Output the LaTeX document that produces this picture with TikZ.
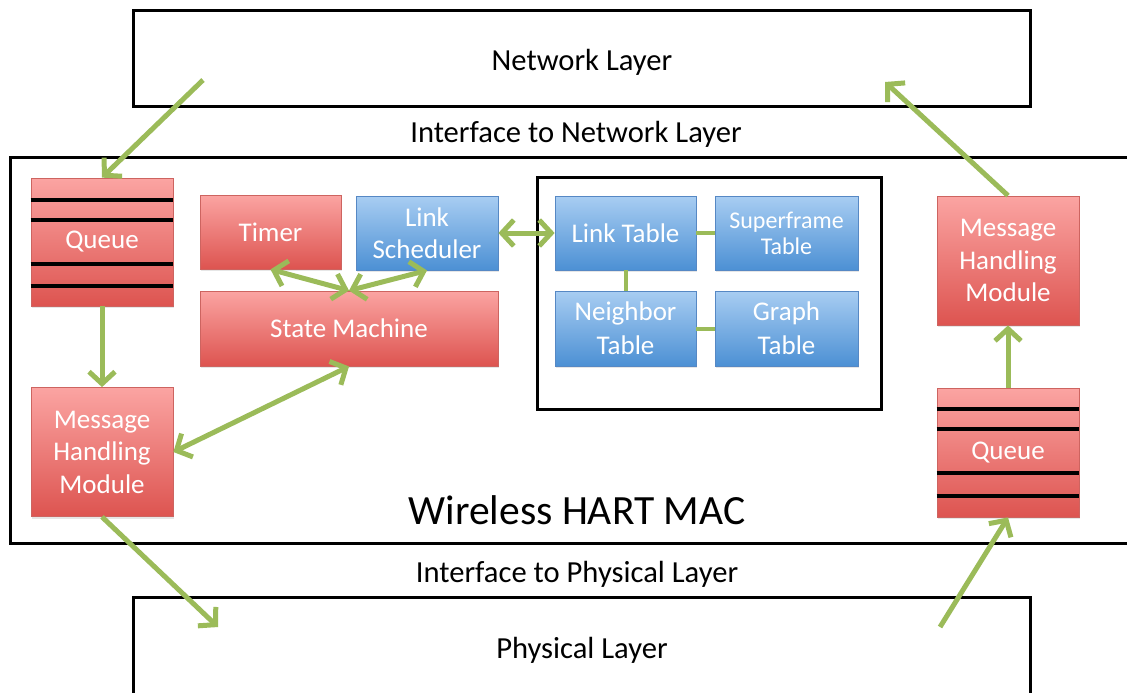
\documentclass[tikz,border=0pt]{standalone}
\usepackage{fontspec}
\setmainfont{Carlito}
\usetikzlibrary{arrows.meta,shadows}
\definecolor{redtop}{RGB}{251,164,162}
\definecolor{redbot}{RGB}{221,84,80}
\definecolor{redline}{RGB}{205,100,96}
\definecolor{bluetop}{RGB}{168,205,242}
\definecolor{bluebot}{RGB}{76,144,212}
\definecolor{blueline}{RGB}{86,136,196}
\definecolor{arrowgreen}{RGB}{155,187,89}
\begin{document}
\begin{tikzpicture}[x=0.5pt,y=-0.5pt,
  block/.style={rectangle, inner sep=0pt, align=center, text=white,
    font=\fontsize{13.5}{16.25}\selectfont, line width=0.4pt,
    drop shadow={shadow xshift=0.4pt, shadow yshift=-1.2pt, opacity=0.2}},
  redblock/.style={block, top color=redtop, bottom color=redbot, draw=redline},
  blueblock/.style={block, top color=bluetop, bottom color=bluebot, draw=blueline},
  small/.style={minimum width=71pt, minimum height=37pt},
  tall/.style={minimum width=71pt, minimum height=64.5pt},
  frame/.style={rectangle, draw=black, line width=1.5pt, inner sep=0pt},
  label/.style={font=\fontsize{15.3}{18}\selectfont},
  flow/.style={draw=arrowgreen, line width=2.5pt, -{Straight Barb[length=6pt,width=13pt]}},
  bothflow/.style={draw=arrowgreen, line width=2.5pt,
    {Straight Barb[length=6pt,width=13pt]}-{Straight Barb[length=6pt,width=13pt]}},
  link/.style={draw=arrowgreen, line width=2pt},
  slot/.style={draw=black, line width=2pt}]
\clip (0,0) rectangle (1127,692);

% layer frames
\node[frame, minimum width=448.5pt, minimum height=48pt] (net) at (581.5,58) {};
\node[label] (netname) at (582,62) {Network Layer};
\node[label] (ifnet) at (576,134) {Interface to Network Layer};
\node[frame, minimum width=565pt, minimum height=193pt] (mac) at (575,350) {};
\node[font=\fontsize{20.8}{24}\selectfont] (macname) at (577,510) {Wireless HART MAC};
\node[label] (ifphy) at (577,574) {Interface to Physical Layer};
\node[frame, minimum width=448.5pt, minimum height=61.5pt] (phy) at (581.5,658.5) {};
\node[label] (phyname) at (582,650) {Physical Layer};

% table group frame
\node[frame, minimum width=172pt, minimum height=116pt] (tables) at (709,293) {};

% left column
\node[redblock, tall, minimum height=64pt] (qL) at (102,242) {\raisebox{-2pt}{Queue}};
\foreach \yy in {200,220,264,286}
  \draw[slot] (qL.west |- 0,\yy) -- (qL.east |- 0,\yy);
\node[redblock, tall] (mhmL) at (102,452) {Message\\Handling\\Module};

% control blocks
\node[redblock, small, minimum width=70.5pt] (timer) at (270.5,232) {Timer};
\node[blueblock, small, font=\fontsize{13.5}{16}\selectfont] (sched) at (427,233) {Link\\Scheduler};
\node[redblock, minimum width=149pt, minimum height=37.5pt] (sm) at (349,328.5) {State Machine};

% tables
\node[blueblock, small, minimum width=70.5pt] (lt) at (625.5,233) {Link Table};
\node[blueblock, small, minimum width=71.5pt, font=\fontsize{12}{13}\selectfont] (sf) at (786.5,233) {Superframe\\Table};
\node[blueblock, small, minimum width=70.5pt, minimum height=37.5pt, font=\fontsize{13.5}{17}\selectfont] (nb) at (625.5,328.5) {Neighbor\\Table};
\node[blueblock, small, minimum width=71.5pt, minimum height=37.5pt, font=\fontsize{13.5}{17}\selectfont] (gt) at (786.5,328.5) {Graph\\Table};

% right column
\node[redblock, tall] (mhmR) at (1008,260.5) {Message\\Handling\\Module};
\node[redblock, tall] (qR) at (1008,452.5) {\raisebox{-1pt}{Queue}};
\foreach \yy in {409,429,473,496}
  \draw[slot] (qR.west |- 0,\yy) -- (qR.east |- 0,\yy);

% free ends inside the layer frames
\coordinate (netout) at (203,80);
\coordinate (netin) at (885,82);
\coordinate (phyin) at (218,627);
\coordinate (phyout) at (940,627);

% data flow
\draw[flow] (netout) -- (qL.north);
\draw[flow] (qL.south) -- (mhmL.north);
\draw[bothflow] (sm.south) -- (mhmL.east);
\draw[bothflow] (timer.south) -- (sm.north);
\draw[bothflow] (sched.south) -- (sm.north);
\draw[bothflow] (sched.east) -- (lt.west);
\draw[flow] (mhmL.south) -- (phyin);
\draw[flow] (phyout) -- (qR.south);
\draw[flow] (qR.north) -- (mhmR.south);
\draw[flow] (mhmR.north) -- (netin);

% table relations
\draw[link] (lt.east) -- (sf.west);
\draw[link] (lt.south) -- (nb.north);
\draw[link] (nb.east) -- (gt.west);
\end{tikzpicture}
\end{document}
